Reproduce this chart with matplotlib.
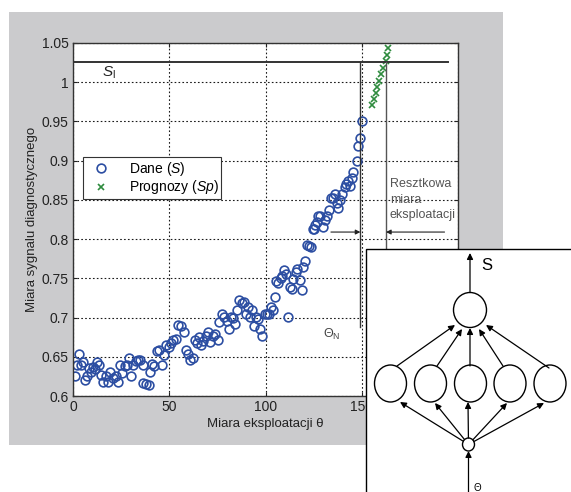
import matplotlib.pyplot as plt
from matplotlib.patches import Rectangle, Ellipse
from matplotlib.ticker import FuncFormatter

plt.rcParams['font.family'] = ['Liberation Sans', 'DejaVu Sans']
plt.rcParams['mathtext.fontset'] = 'custom'
plt.rcParams['mathtext.rm'] = 'Liberation Sans'
plt.rcParams['mathtext.it'] = 'Liberation Sans:italic'

theta = [1.2, 2.1, 3.1, 4.3, 5.2, 6.0, 7.3, 8.3, 9.5, 10.4, 11.6, 12.4, 13.5, 14.7,
         15.5, 16.9, 18.1, 19.3, 20.7, 22.1, 23.3, 24.2, 25.6, 26.8, 28.0, 29.0,
         30.2, 31.1, 32.5, 33.7, 34.9, 36.3, 36.6, 38.0, 39.4, 40.1, 41.1, 42.3,
         43.5, 44.6, 46.3, 47.5, 48.4, 49.7, 50.9, 52.2, 53.5, 54.7, 56.1, 57.5,
         58.7, 59.9, 61.0, 62.2, 63.4, 64.6, 65.6, 66.5, 67.7, 69.1, 70.3, 71.3,
         72.5, 73.9, 75.1, 76.0, 77.4, 78.6, 79.8, 80.8, 82.0, 82.9, 84.1, 85.1,
         86.4, 87.6, 88.6, 89.8, 90.7, 91.9, 92.9, 93.8, 95.0, 95.9, 97.2, 98.4,
         99.7, 100.7, 101.9, 102.8, 104.0, 105.0, 105.7, 106.7, 107.9, 108.8,
         109.7, 110.9, 111.7, 112.6, 113.7, 114.5, 115.7, 116.6, 117.9, 118.8,
         119.7, 120.6, 121.4, 122.6, 123.8, 124.9, 125.2, 125.7, 126.6, 127.4,
         128.3, 130.0, 130.9, 131.8, 133.1, 134.0, 135.2, 136.1, 137.0, 137.8,
         138.7, 139.6, 141.3, 141.8, 143.0, 143.9, 144.8, 145.3, 147.4, 148.2,
         149.1, 150.0]
S = [0.626, 0.640, 0.654, 0.640, 0.643, 0.621, 0.626, 0.636, 0.631, 0.637, 0.634,
     0.643, 0.639, 0.627, 0.618, 0.625, 0.618, 0.630, 0.623, 0.625, 0.618, 0.640,
     0.629, 0.638, 0.640, 0.649, 0.626, 0.639, 0.644, 0.646, 0.646, 0.640, 0.616,
     0.615, 0.614, 0.631, 0.641, 0.638, 0.658, 0.659, 0.640, 0.652, 0.665, 0.662,
     0.667, 0.671, 0.673, 0.691, 0.689, 0.682, 0.659, 0.654, 0.646, 0.649, 0.672,
     0.667, 0.675, 0.665, 0.670, 0.677, 0.682, 0.669, 0.677, 0.679, 0.672, 0.694,
     0.705, 0.701, 0.696, 0.685, 0.701, 0.699, 0.692, 0.709, 0.723, 0.719, 0.720,
     0.704, 0.714, 0.701, 0.709, 0.689, 0.701, 0.698, 0.685, 0.677, 0.704, 0.704,
     0.705, 0.714, 0.710, 0.726, 0.746, 0.744, 0.750, 0.753, 0.760, 0.755, 0.701,
     0.739, 0.737, 0.749, 0.758, 0.762, 0.748, 0.735, 0.765, 0.772, 0.792, 0.791,
     0.790, 0.813, 0.8125, 0.818, 0.822, 0.829, 0.829, 0.816, 0.824, 0.829, 0.837,
     0.853, 0.853, 0.858, 0.846, 0.840, 0.850, 0.858, 0.867, 0.870, 0.8745, 0.868,
     0.8775, 0.886, 0.900, 0.919, 0.9285, 0.950]

# forecasts (Sp)
theta_p = [155.5, 156.2, 157.2, 157.9, 159.1, 160.2, 161.0, 162.4, 163.3, 163.8]
Sp = [0.971, 0.979, 0.986, 0.994, 1.002, 1.011, 1.018, 1.027, 1.035, 1.043]

S_limit = 1.026
theta_N = 149.3
theta_end = 162.6

W, H = 571, 492
fig = plt.figure(figsize=(W / 100, H / 100), dpi=100)
fig.patch.set_facecolor('white')

# grey matlab-like frame
bg = fig.add_axes([0, 0, 1, 1], zorder=-1)
bg.set_xlim(0, W)
bg.set_ylim(H, 0)
bg.axis('off')
bg.add_patch(Rectangle((9, 12), 494, 433, fc='#cbcbcd', ec='none'))

ax = fig.add_axes([73 / W, (H - 396) / H, 385 / W, 353 / H])
ax.set_xlim(0, 200)
ax.set_ylim(0.6, 1.05)
ax.set_xticks([0, 50, 100, 150, 200])
ax.set_yticks([0.6, 0.65, 0.7, 0.75, 0.8, 0.85, 0.9, 0.95, 1.0, 1.05])
ax.yaxis.set_major_formatter(FuncFormatter(lambda v, p: '%g' % v))
ax.tick_params(direction='in', length=3, labelsize=10, top=True, right=True,
               colors='#222222', pad=3)
ax.grid(True, color='#1a1a1a', linestyle=(0, (1.5, 2.0)), linewidth=0.8)
for sp in ax.spines.values():
    sp.set_color('#333333')
    sp.set_linewidth(1.0)

ax.plot(theta, S, linestyle='none', marker='o', mfc='none', mec='#2c4ea2',
        ms=6.3, mew=1.2, label='Dane ($S$)')
ax.plot(theta_p, Sp, linestyle='none', marker='x', color='#2e8b3e',
        ms=3.8, mew=1.2, label='Prognozy ($Sp$)')

ax.plot([0, 195], [S_limit, S_limit], color='#333333', lw=1.4)
ax.plot([theta_N, theta_N], [S_limit, 0.688], color='#333333', lw=1.0)
ax.plot([theta_end, theta_end], [S_limit, 0.6], color='#555555', lw=1.0)

arr = dict(arrowstyle='-|>', color='#222222', lw=0.8, mutation_scale=7,
           shrinkA=0, shrinkB=0)
ax.annotate('', xy=(theta_N, 0.809), xytext=(134, 0.809), arrowprops=arr)
ax.annotate('', xy=(theta_end, 0.809), xytext=(193, 0.809), arrowprops=arr)

ax.text(164.5, 0.878, 'Resztkowa\nmiara\neksploatacji', fontsize=9,
        color='#555555', va='top', ha='left', linespacing=1.4)
ax.text(130, 0.679, r'$\Theta_{\rm N}$', fontsize=9, color='#444444',
        ha='left', va='center')
ax.text(15, 1.022, r'$S_{\rm l}$', fontsize=11, color='#222222',
        ha='left', va='top')

ax.set_xlabel('Miara eksploatacji θ', fontsize=9.5, color='#222222', labelpad=3)
ax.set_ylabel('Miara sygnalu diagnostycznego', fontsize=9.5, color='#222222',
              labelpad=3)

leg = ax.legend(loc='upper left', bbox_to_anchor=(0.026, 0.677), fontsize=10,
                fancybox=False, framealpha=1, edgecolor='#333333',
                borderpad=0.2, handletextpad=0.9, labelspacing=0.05,
                handlelength=2.2, borderaxespad=0)
leg.get_frame().set_linewidth(0.8)

# neural network inset, drawn in pixel coordinates
ov = fig.add_axes([0, 0, 1, 1], zorder=5)
ov.set_xlim(0, W)
ov.set_ylim(H, 0)
ov.axis('off')
ov.add_patch(Rectangle((366, 249), 220, 260, fc='white', ec='black', lw=1.0))

out_c = (470, 310)
hid_x = [390.5, 430.5, 470.5, 510, 550]
hid_y = 383.5
in_c = (468.5, 444.5)

ov.add_patch(Ellipse(out_c, 33, 35, fc='white', ec='black', lw=1.0))
for hx in hid_x:
    ov.add_patch(Ellipse((hx, hid_y), 32, 37, fc='white', ec='black', lw=1.0))
ov.add_patch(Ellipse(in_c, 12, 13, fc='white', ec='black', lw=1.0))

narr = dict(arrowstyle='-|>', color='black', lw=0.9, mutation_scale=9,
            shrinkA=0, shrinkB=0)
in_tips = [(400, 402), (435, 403), (468, 402), (507, 403), (544, 403)]
for tx, ty in in_tips:
    dx = tx - in_c[0]
    dy = ty - in_c[1]
    d = (dx ** 2 + dy ** 2) ** 0.5
    sx = in_c[0] + dx / d * 6.5
    sy = in_c[1] + dy / d * 6.5
    ov.annotate('', xy=(tx, ty), xytext=(sx, sy), arrowprops=narr)

hid_tops = [(397, 366), (437, 366), (470, 366), (503, 366), (549, 368)]
out_tips = [(455, 325), (462, 329), (470, 328), (479, 329), (486, 325)]
for (sx, sy), (tx, ty) in zip(hid_tops, out_tips):
    ov.annotate('', xy=(tx, ty), xytext=(sx, sy), arrowprops=narr)

ov.annotate('', xy=(470, 253), xytext=(470, 292.5), arrowprops=narr)
ov.annotate('', xy=(468.5, 451), xytext=(468.5, 495), arrowprops=narr)
ov.text(481, 266, 'S', fontsize=12, ha='left', va='center')
ov.text(473, 483, 'Θ', fontsize=7, ha='left', va='top')

fig.savefig('out.png', dpi=100)
